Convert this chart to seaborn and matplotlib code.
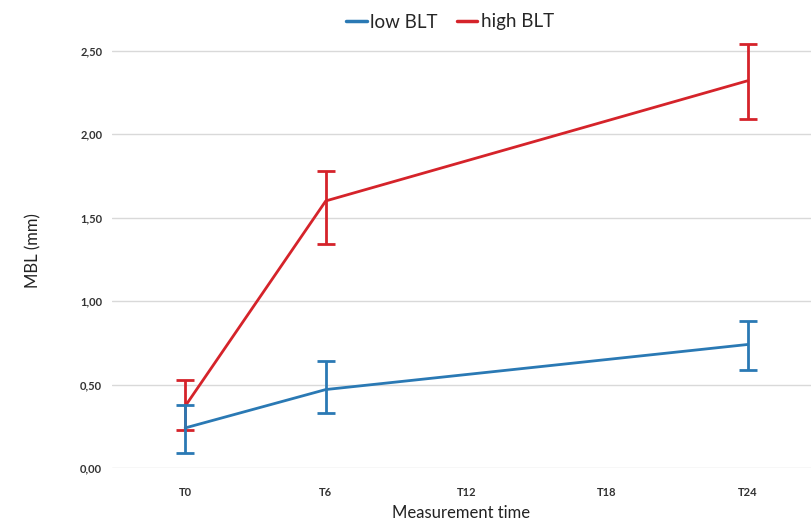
import matplotlib
matplotlib.use("Agg")
import matplotlib.pyplot as plt
import seaborn as sns
import pandas as pd
from matplotlib.ticker import FuncFormatter
from matplotlib.lines import Line2D

# ---- data ----
time_labels = ["T0", "T6", "T12", "T18", "T24"]
measured_times = ["T0", "T6", "T24"]
low_mean = [0.24, 0.47, 0.74]
low_err_lo = [0.15, 0.14, 0.15]
low_err_hi = [0.14, 0.17, 0.14]
high_mean = [0.37, 1.60, 2.32]
high_err_lo = [0.14, 0.26, 0.23]
high_err_hi = [0.16, 0.18, 0.22]
groups = ["low BLT", "high BLT"]
colors = {"low BLT": "#2a79b4", "high BLT": "#d5232a"}

pos = [time_labels.index(t) for t in measured_times]
df = pd.DataFrame({
    "pos": pos * 2,
    "MBL": low_mean + high_mean,
    "group": [groups[0]] * 3 + [groups[1]] * 3,
})

sns.set_theme(style="white")
plt.rcParams["font.family"] = ["Lato", "DejaVu Sans"]

fig = plt.figure(figsize=(8.11, 5.23), dpi=100)
ax = fig.add_axes([112 / 811, 1 - 468 / 523, 1 - 112 / 811, (468 - 34) / 523])

sns.lineplot(data=df, x="pos", y="MBL", hue="group", palette=colors,
             linewidth=2.0, ax=ax, legend=False, zorder=3)

for g, m, lo, hi in [(groups[1], high_mean, high_err_lo, high_err_hi),
                     (groups[0], low_mean, low_err_lo, low_err_hi)]:
    ax.errorbar(pos, m, yerr=[lo, hi], fmt="none", ecolor=colors[g],
                elinewidth=2.0, capsize=6.5, capthick=2.0, zorder=4)

ax.set_xlim(-0.52, 4.45)
ax.set_ylim(0, 2.6)
ax.set_xticks(range(len(time_labels)))
ax.set_xticklabels(time_labels)
ax.set_yticks([0, 0.5, 1.0, 1.5, 2.0, 2.5])
ax.yaxis.set_major_formatter(FuncFormatter(lambda v, p: f"{v:.2f}".replace(".", ",")))
for lab in ax.get_xticklabels() + ax.get_yticklabels():
    lab.set_fontsize(8)
    lab.set_fontweight("bold")
    lab.set_color("#333333")
ax.tick_params(axis="x", length=0, pad=14)
ax.tick_params(axis="y", length=0, pad=7)
ax.grid(axis="y", color="#d9d9d9", linewidth=1.0)
ax.set_axisbelow(True)
for s in ax.spines.values():
    s.set_visible(False)

ax.set_xlabel("Measurement time", fontsize=12, color="#222222", labelpad=5)
ax.set_ylabel("MBL (mm)", fontsize=12, color="#222222", labelpad=28)

handles = [Line2D([0], [0], color=colors[g], linewidth=2.5) for g in groups]
fig.legend(handles, groups, loc="center", bbox_to_anchor=(450 / 811, 1 - 22 / 523),
           ncol=2, frameon=False, fontsize=13.5, handlelength=1.1, handletextpad=0.2,
           columnspacing=1.0)

fig.savefig("out.png", dpi=100)
